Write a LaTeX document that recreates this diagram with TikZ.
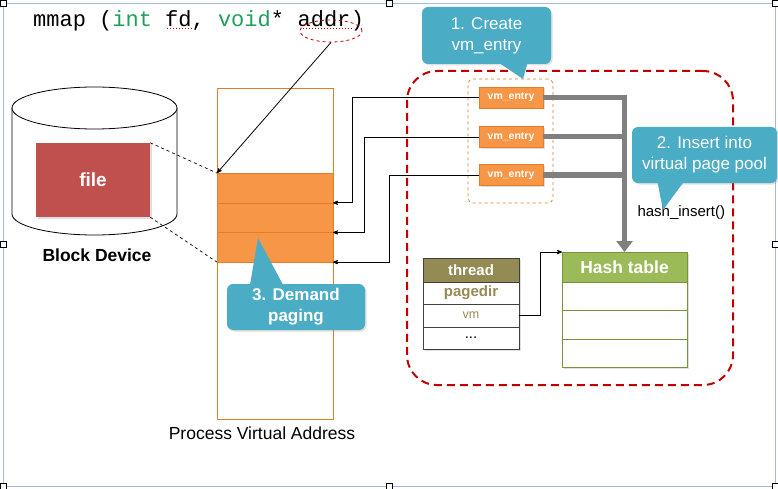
\documentclass[tikz,border=0pt]{standalone}
\usepackage{fontspec}
\setmainfont{Liberation Sans}
\setmonofont{Liberation Mono}
\usetikzlibrary{arrows}
\usetikzlibrary{arrows.meta}
\usetikzlibrary{positioning}
\usetikzlibrary{shapes.geometric}
\usetikzlibrary{shadows}

\definecolor{pagefill}{RGB}{247,150,70}
\definecolor{pageline}{RGB}{226,126,40}
\definecolor{filered}{RGB}{192,80,77}
\definecolor{callblue}{RGB}{75,172,198}
\definecolor{poolred}{RGB}{192,0,0}
\definecolor{olivehead}{RGB}{148,138,84}
\definecolor{hashhead}{RGB}{155,187,89}
\definecolor{hashline}{RGB}{119,147,60}
\definecolor{codegreen}{RGB}{30,160,90}
\definecolor{framecol}{RGB}{165,185,225}

\begin{document}
\begin{tikzpicture}[x=1pt,y=-1pt,>=stealth',
  link/.style={->,draw=black,line width=0.8pt},
  pipe/.style={draw=black!50,line width=5pt},
  shade/.style={drop shadow={opacity=.25,shadow xshift=1.5pt,shadow yshift=-1.5pt}},
  page/.style={draw=pageline,fill=pagefill,minimum width=116pt,minimum height=29.7pt,outer sep=0pt},
  vm node/.style={draw=pageline,fill=pagefill,text=white,shade,minimum width=64pt,minimum height=21pt,
    inner sep=0pt,font=\bfseries\fontsize{10.5}{12}\selectfont},
  note/.style={fill=callblue,rounded corners=6pt,text=white,align=center,shade,inner sep=0pt,
    font=\fontsize{17}{21}\selectfont},
  code/.style={anchor=base west,inner sep=0pt,font=\ttfamily\fontsize{22}{26}\selectfont},
  thread row/.style={draw=black!75,fill=white,shade,minimum width=96pt,minimum height=22pt,
    inner sep=0pt,outer sep=0pt,font=\fontsize{15}{17}\selectfont},
  hash row/.style={draw=hashline,fill=white,shade,minimum width=125pt,minimum height=28.5pt,
    inner sep=0pt,outer sep=0pt},
  handle/.style={draw=black,fill=white,line width=0.6pt,minimum size=6pt,inner sep=0pt}]

  \useasboundingbox (0,0) rectangle (778,489);
  \draw[framecol,line width=0.8pt] (3,3) rectangle (775,486);
  \foreach \hx/\hy in {3/3,389/3,775/3,3/244,775/244,3/486,389/486,775/486}
    \node[handle] at (\hx,\hy) {};

  % call
  \node[code] (sig) at (33,27) {mmap (\textcolor{codegreen}{int} fd, \textcolor{codegreen}{void}*\mbox{\ }};
  \node[code] (addr) at (sig.base east) {addr};
  \node[code] (rpar) at (addr.base east) {)};
  \draw[poolred,line width=1pt,dotted] (167,29) -- (192,29);
  \draw[poolred,line width=1pt,dotted] (303,29) -- (353,29);
  \node[draw=poolred,dashed,line width=0.8pt,ellipse,minimum width=62pt,minimum height=22pt] (ring) at (331,31) {};

  % disk
  \draw[line width=0.8pt,fill=white] (12,108) -- (12,214) arc[start angle=180,end angle=0,x radius=82.5,y radius=21]
    -- (177,108);
  \draw[line width=0.8pt,fill=white] (94.5,108) ellipse [x radius=82.5,y radius=21];
  \node[fill=filered,shade,minimum width=114pt,minimum height=74pt,text=white,
    font=\bfseries\fontsize{19}{22}\selectfont] (file) at (93,180) {file};
  \node[font=\bfseries\fontsize{17.5}{20}\selectfont] (disk) at (97,255) {Block Device};

  % process address space
  \node[draw=pageline,line width=0.8pt,minimum width=116pt,minimum height=331pt] (pva) at (275,253.5) {};
  \node[page] (pg1) at (275,187.9) {};
  \node[page,below=0pt of pg1] (pg2) {};
  \node[page,below=0pt of pg2] (pg3) {};
  \node[below=4pt of pva,xshift=-13pt,font=\fontsize{17.5}{20}\selectfont] (pvalabel) {Process Virtual Address};

  \draw[dashed,line width=0.7pt] (file.north east) -- (pg1.north west);
  \draw[dashed,line width=0.7pt] (file.south east) -- (pg3.south west);
  \draw[link] (ring.south) -- (pg1.north west);

  % virtual page pool
  \node[draw=poolred,line width=2pt,dash pattern=on 8pt off 5pt,rounded corners=30pt,
    minimum width=326pt,minimum height=314pt] (pool) at (570,228) {};
  \node[draw=pageline,dashed,line width=0.8pt,rounded corners=5pt,minimum width=85pt,minimum height=124pt] (vmgroup) at (510.5,141) {};

  \node[vm node] (vm1) at (511,97.5) {vm\_entry};
  \node[vm node] (vm2) at (511,137) {vm\_entry};
  \node[vm node] (vm3) at (511,175) {vm\_entry};

  \draw[link] (vm1.west) -- ++(-126,0) |- (pg1.south east);
  \draw[link] (vm2.west) -- ++(-114,0) |- (pg2.south east);
  \draw[link] (vm3.west) -- ++(-89,0) |- (pg3.south east);

  % thread
  \node[thread row,fill=olivehead,minimum height=24pt,text=white,font=\bfseries\fontsize{15}{17}\selectfont] (thr) at (471,270) {thread};
  \node[thread row,below=0pt of thr,text=olivehead,font=\bfseries\fontsize{15}{17}\selectfont] (pgdir) {pagedir};
  \node[thread row,below=0pt of pgdir,text=olivehead,minimum height=23pt,font=\fontsize{12.5}{15}\selectfont] (vmrow) {vm};
  \node[thread row,below=0pt of vmrow] (dots) {...};

  % hash table
  \node[hash row,fill=hashhead,minimum height=30pt,text=white,font=\bfseries\fontsize{17.5}{20}\selectfont] (hash) at (624.5,267) {Hash table};
  \node[hash row,below=0pt of hash] (h1) {};
  \node[hash row,below=0pt of h1] (h2) {};
  \node[hash row,below=0pt of h2] (h3) {};

  \draw[link] (vmrow.east) -- ++(21,0) |- (hash.north west);

  \draw[pipe] (vm2.east) -- (vm2.east -| hash.north);
  \draw[pipe] (vm3.east) -- (vm3.east -| hash.north);
  \draw[pipe,-{Triangle[length=11pt,width=16pt]}] (vm1.east) -| (hash.north);

  \node[anchor=west,font=\fontsize{15}{17}\selectfont] (insert) at (634,213) {hash\_insert()};

  % notes
  \node[note,minimum width=129pt,minimum height=57pt] (c1) at (486.5,35.5) {1. Create\\vm\_entry};
  \fill[callblue] ([xshift=13pt,yshift=1pt]c1.south) -- (523,79) -- ([xshift=41pt,yshift=1pt]c1.south) -- cycle;
  \node[note,minimum width=145pt,minimum height=56pt] (c2) at (704.5,155) {2. Insert into\\virtual page pool};
  \fill[callblue] ([xshift=-47pt,yshift=1pt]c2.south) -- (663,210) -- ([xshift=-21pt,yshift=1pt]c2.south) -- cycle;
  \node[note,minimum width=138pt,minimum height=46pt,font=\bfseries\fontsize{17}{21}\selectfont] (c3) at (296,307) {3. Demand\\paging};
  \fill[callblue] ([xshift=-46pt,yshift=-1pt]c3.north) -- (258,238) -- ([xshift=-13pt,yshift=-1pt]c3.north) -- cycle;

\end{tikzpicture}
\end{document}
